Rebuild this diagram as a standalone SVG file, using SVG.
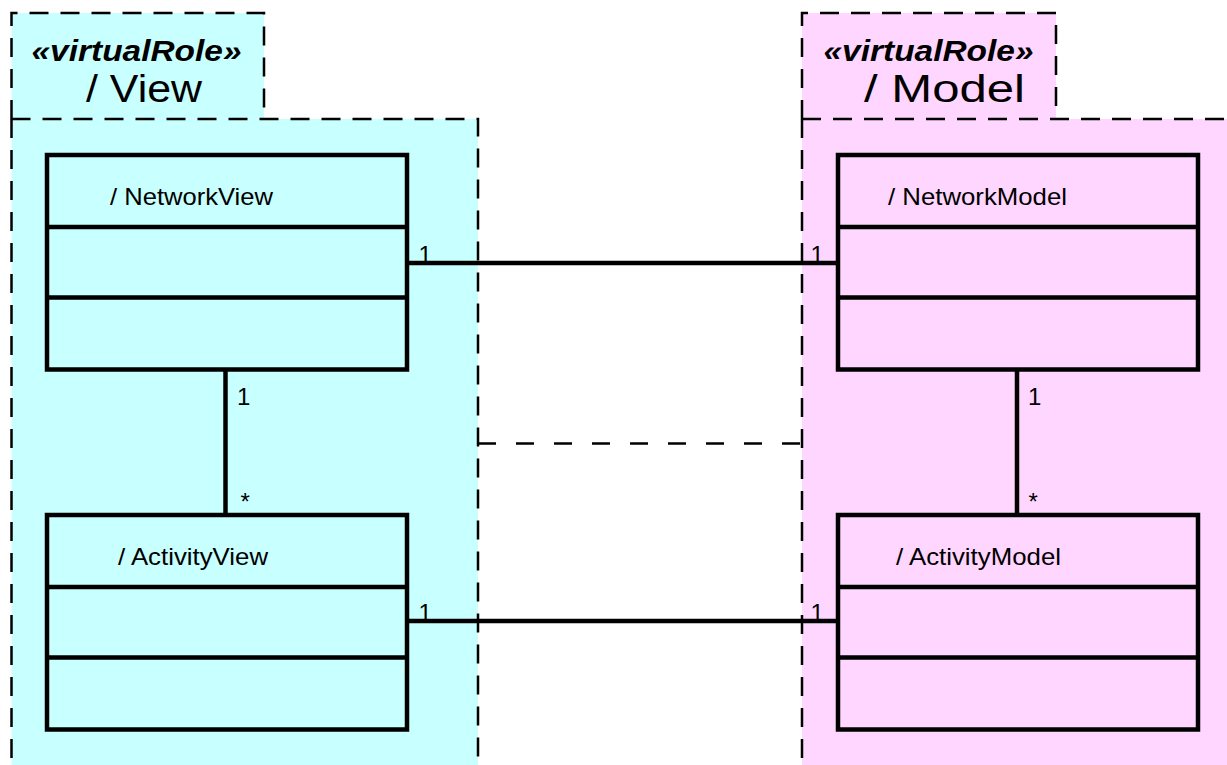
<svg xmlns="http://www.w3.org/2000/svg" width="1227" height="765" viewBox="0 0 1227 765">
  <style>
    .pkg-view { fill: #C8FFFF; }
    .pkg-model { fill: #FFD6FF; }
    .pkg-edge { fill: none; stroke: #000; stroke-width: 2.5; stroke-dasharray: 19 12; }
    .cls { fill: none; stroke: #000; stroke-width: 4.5; }
    .conn { fill: none; stroke: #000; stroke-width: 4.5; }
    .dash { fill: none; stroke: #000; stroke-width: 2.5; stroke-dasharray: 18 20; }
    .stereo { font-family: "Liberation Sans", Arial, sans-serif; font-weight: bold; font-style: italic; font-size: 30px; fill: #000; }
    .pkgname { font-family: "Liberation Sans", Arial, sans-serif; font-size: 39px; fill: #000; }
    .clsname { font-family: "Liberation Sans", Arial, sans-serif; font-size: 24.5px; fill: #000; }
    .mult { font-family: "Liberation Sans", Arial, sans-serif; font-size: 24px; fill: #000; }
  </style>

  <!-- package: View -->
  <g id="pkg-view">
    <rect class="pkg-view" x="11.5" y="13" width="252.5" height="106"/>
    <rect class="pkg-view" x="11.5" y="119" width="466.5" height="660"/>
    <path class="pkg-edge" d="M11.5 119 V13 H264 V119"/>
    <path class="pkg-edge" d="M11.5 119 V780"/>
    <path class="pkg-edge" d="M11.5 119 H478 V780"/>
    <text class="stereo" x="31.5" y="60.5" textLength="210" lengthAdjust="spacingAndGlyphs">«virtualRole»</text>
    <text class="pkgname" x="86" y="102" textLength="116" lengthAdjust="spacingAndGlyphs">/ View</text>
  </g>

  <!-- package: Model -->
  <g id="pkg-model">
    <rect class="pkg-model" x="802" y="13" width="254" height="106"/>
    <rect class="pkg-model" x="802" y="119" width="440" height="660"/>
    <path class="pkg-edge" d="M802 119 V13 H1056 V119"/>
    <path class="pkg-edge" d="M802 119 V780"/>
    <path class="pkg-edge" d="M802 119 H1240"/>
    <text class="stereo" x="823.5" y="60.5" textLength="210" lengthAdjust="spacingAndGlyphs">«virtualRole»</text>
    <text class="pkgname" x="864" y="102" textLength="161" lengthAdjust="spacingAndGlyphs">/ Model</text>
  </g>

  <!-- classes -->
  <g id="NetworkView">
    <rect class="cls" x="47" y="155" width="360" height="214.5"/>
    <path class="cls" d="M47 227 H407 M47 297.5 H407"/>
    <text class="clsname" x="110" y="205" textLength="163" lengthAdjust="spacingAndGlyphs">/ NetworkView</text>
  </g>
  <g id="ActivityView">
    <rect class="cls" x="47" y="515" width="360" height="214.5"/>
    <path class="cls" d="M47 587 H407 M47 657.5 H407"/>
    <text class="clsname" x="118" y="565" textLength="150" lengthAdjust="spacingAndGlyphs">/ ActivityView</text>
  </g>
  <g id="NetworkModel">
    <rect class="cls" x="838" y="155" width="360" height="214.5"/>
    <path class="cls" d="M838 227 H1198 M838 297.5 H1198"/>
    <text class="clsname" x="888" y="205" textLength="179" lengthAdjust="spacingAndGlyphs">/ NetworkModel</text>
  </g>
  <g id="ActivityModel">
    <rect class="cls" x="838" y="515" width="360" height="214.5"/>
    <path class="cls" d="M838 587 H1198 M838 657.5 H1198"/>
    <text class="clsname" x="896" y="565" textLength="165" lengthAdjust="spacingAndGlyphs">/ ActivityModel</text>
  </g>

  <!-- connectors and multiplicities -->
  <g id="connectors">
    <text class="mult" x="418.5" y="263">1</text>
    <text class="mult" x="810.5" y="263">1</text>
    <text class="mult" x="418.5" y="621">1</text>
    <text class="mult" x="810.5" y="621">1</text>
    <text class="mult" x="237" y="405">1</text>
    <text class="mult" x="240.5" y="510">*</text>
    <text class="mult" x="1028" y="405">1</text>
    <text class="mult" x="1028.5" y="510">*</text>
    <path class="conn" d="M407 263 H838"/>
    <path class="conn" d="M407 621 H838"/>
    <path class="conn" d="M225.5 369.5 V515"/>
    <path class="conn" d="M1017 369.5 V515"/>
    <path class="dash" d="M478 443.5 H802"/>
  </g>
</svg>
